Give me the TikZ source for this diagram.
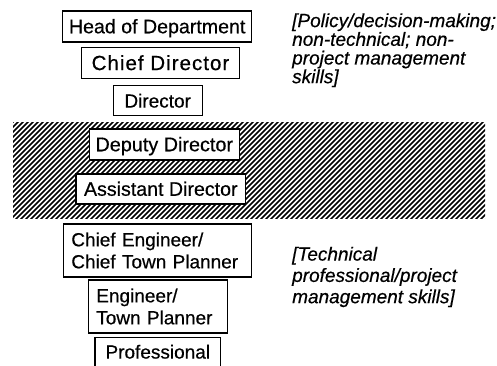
\documentclass[tikz,border=0pt]{standalone}
\usepackage{fontspec}
\setmainfont{Liberation Sans}[FakeBold=0.5]
\newcommand\heavier{\addfontfeature{FakeBold=0.5}}
\begin{document}
\begin{tikzpicture}[x=1pt,y=-1pt,
  rank/.style={draw=black, line width=1.1pt, fill=white, inner sep=0pt,
    font=\fontsize{19}{22}\selectfont\heavier, text height=13.5pt, text depth=0pt},
  rank2/.style={draw=black, line width=1.1pt, fill=white, inner xsep=8pt,
    inner ysep=0pt, align=left, font=\fontsize{19}{22}\selectfont\heavier},
  note/.style={inner sep=0pt, anchor=north west, align=left}]
\useasboundingbox (0,0) rectangle (497,365);

% hatched band for the middle ranks
\begin{scope}
  \clip (13,122) rectangle (485,218);
  \foreach \k in {-100,-95,...,490}
    \draw[line width=1.6pt] (\k,220) -- (\k+100,120);
\end{scope}

% ranks above, inside and below the band
\node[rank, minimum width=189pt, minimum height=31pt,
  font=\fontsize{19.6}{22}\selectfont\heavier] (hod) at (157.2,26.5) {Head of Department};
\node[rank, minimum width=157.6pt, minimum height=31pt,
  font=\fontsize{20.5}{22}\selectfont\addfontfeature{LetterSpace=5,FakeBold=0.5}] (cd) at (160.5,63.3) {Chief Director};
\node[rank, minimum width=89.3pt, minimum height=30pt] (dir) at (157.7,100.8) {Director};
\node[rank, minimum width=150pt, minimum height=31pt,
  font=\fontsize{19.8}{22}\selectfont\heavier] (dd) at (164.3,144.5) {Deputy Director};
\node[rank, minimum width=169.7pt, minimum height=30pt,
  font=\fontsize{19.6}{22}\selectfont\heavier] (ad) at (160.8,189) {Assistant Director};
\node[rank2, text width=172pt, minimum height=53pt] (ce) at (157.3,250.5) {Chief Engineer/\\Chief Town Planner};
\node[rank2, text width=123pt, minimum height=53pt] (en) at (157.8,306.5) {Engineer/\\Town Planner};
\begin{scope}
  \clip (0,0) rectangle (497,365);
  \node[draw=black, line width=1.1pt, fill=white, anchor=north, inner xsep=0pt,
    inner ysep=7pt, minimum width=125.7pt, font=\fontsize{19}{22}\selectfont\heavier,
    text height=14pt, text depth=20pt] (pro) at (157.8,337) {Professional};
\end{scope}

% skill annotations
\node[note, font=\fontsize{19}{18.7}\selectfont\itshape\heavier] (policy) at (292,13.1)
  {[Policy/decision-making;\\non-technical; non-\\project management\\skills]};
\node[note, font=\fontsize{19}{21.3}\selectfont\itshape\heavier] (tech) at (292,246.6)
  {[Technical\\professional/project\\management skills]};
\end{tikzpicture}
\end{document}
